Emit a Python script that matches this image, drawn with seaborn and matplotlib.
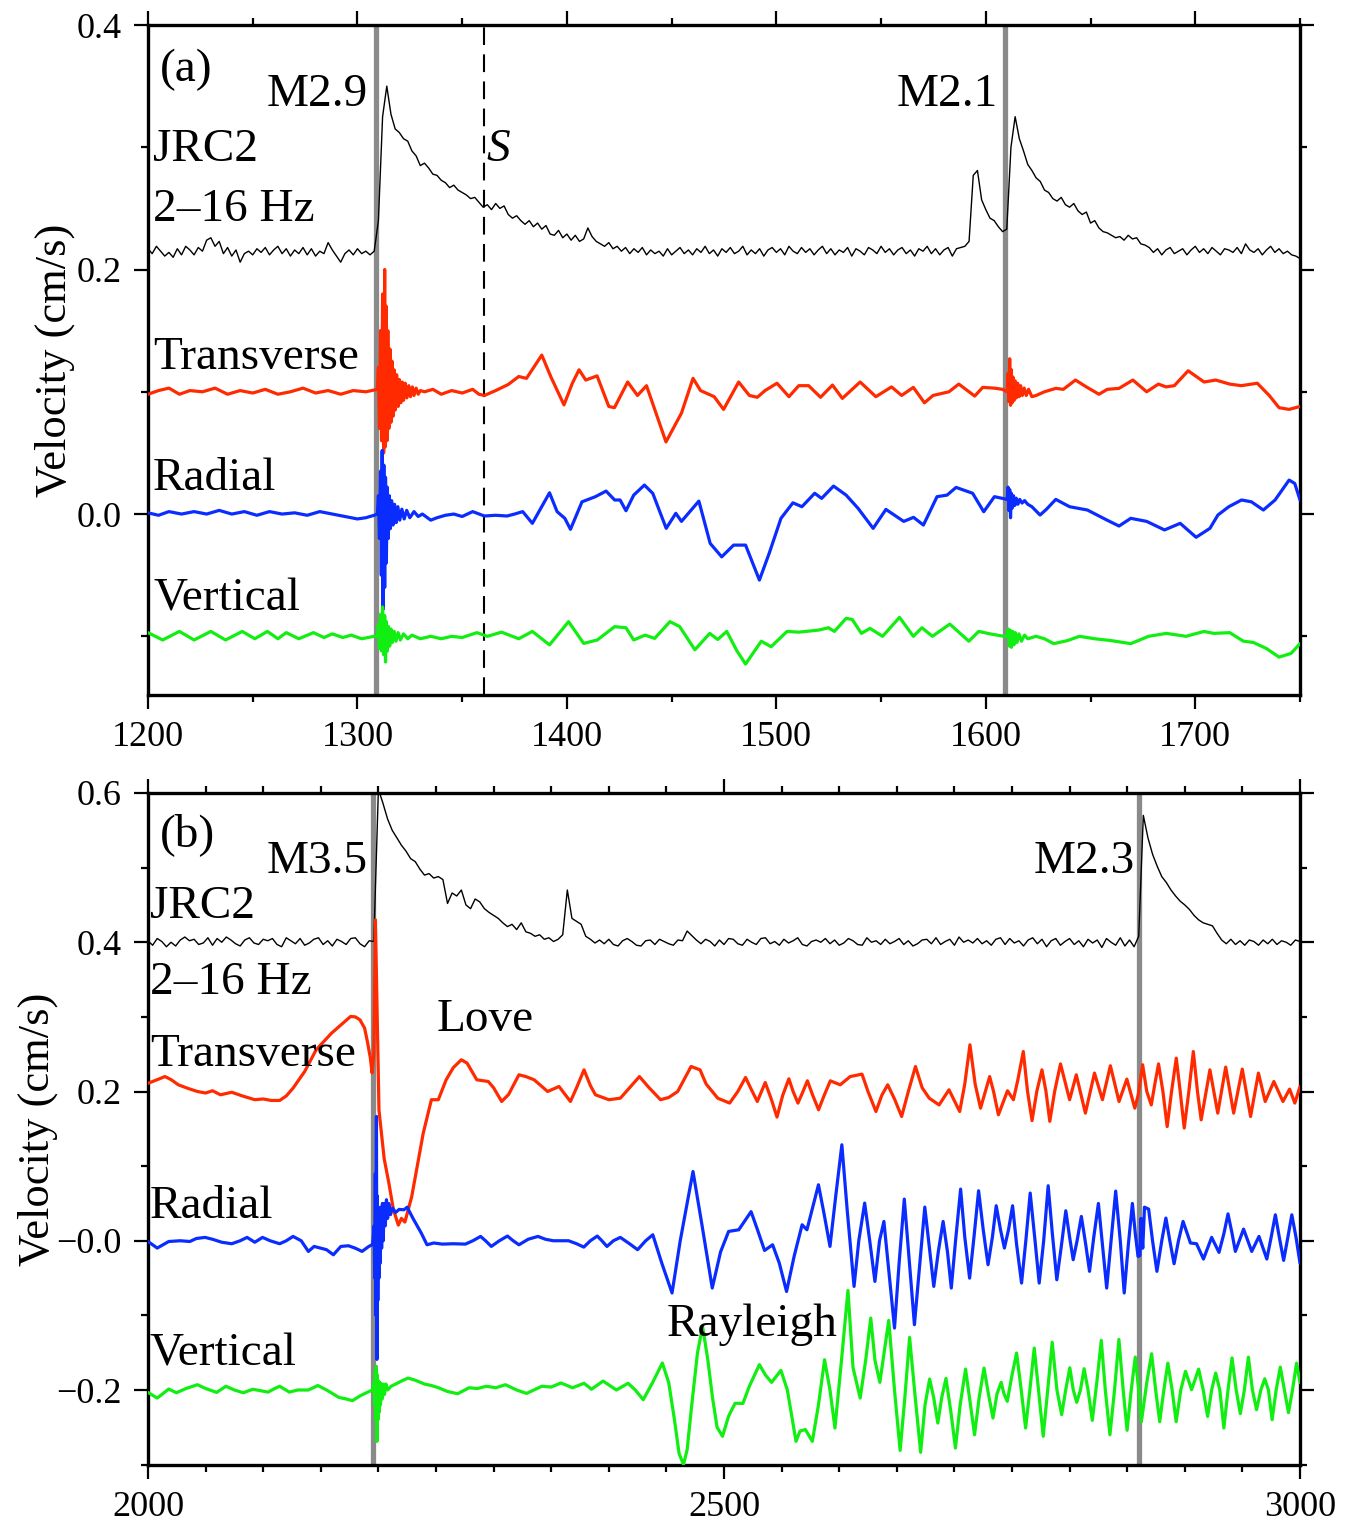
import numpy as np
import matplotlib.pyplot as plt
import seaborn as sns
from matplotlib.ticker import MultipleLocator, FixedLocator, FixedFormatter

sns.set_theme(style="ticks")
plt.rcParams['font.family'] = ['Liberation Serif', 'DejaVu Serif']
plt.rcParams.update({'text.color': 'black', 'axes.labelcolor': 'black',
                     'xtick.color': 'black', 'ytick.color': 'black',
                     'axes.edgecolor': 'black'})

# ---------------- data (velocity in cm/s, relative to each trace's baseline) ----------------
# panel (a): 1200-1750 s
a_black_t0, a_black_dt = 1200, 2
a_black = [
    .002, -.002, .004, .000, -.004, -.001, -.005, .002, -.003, .004,
    .001, -.003, .003, .000, .009, .011, .004, .008, -.002, .003,
    -.004, .001, -.009, -.002, .000, -.003, .002, -.001, .003, -.003,
    .001, .004, -.002, .002, -.004, .001, -.002, .003, -.003, .002,
    -.004, .000, -.002, .007, .001, -.004, -.009, -.002, .001, -.003,
    .002, -.002, .000, -.003, .000, .025, .110, .135, .112, .100,
    .097, .092, .090, .082, .078, .070, .072, .068, .063, .062,
    .058, .056, .052, .054, .050, .048, .046, .043, .044, .040,
    .036, .038, .034, .039, .035, .037, .030, .027, .029, .025,
    .022, .025, .020, .023, .018, .021, .014, .013, .017, .011,
    .014, .009, .013, .008, .010, .019, .012, .008, .006, .004,
    .007, .002, .004, .000, .003, -.002, .002, -.001, .003, -.003,
    .001, -.002, .000, -.004, .002, -.003, .000, .003, -.002, .001,
    -.003, .002, -.001, .004, -.002, .001, -.004, .002, -.001, .003,
    -.002, .000, .004, -.003, .001, -.002, .002, -.004, .001, .003,
    -.001, .002, -.003, .004, .000, -.002, .003, -.001, .002, -.003,
    .001, .004, -.002, .002, -.003, .001, -.001, .003, -.004, .002,
    .000, -.003, .003, .001, -.002, .004, -.001, .002, -.003, .001,
    .003, -.002, .001, -.004, .002, .000, .004, -.002, .002, -.003,
    .001, .003, -.004, .002, .003, .004, .008, .062, .066, .042,
    .034, .027, .025, .020, .016, .018, .085, .110, .092, .082,
    .071, .066, .060, .057, .050, .048, .043, .041, .044, .038,
    .036, .039, .033, .030, .032, .023, .025, .019, .016, .015,
    .013, .011, .012, .009, .013, .010, .011, .006, .005, .003,
    -.001, .002, -.003, .001, .003, -.002, .000, .002, -.003, .001,
    .004, -.001, .002, -.002, .003, .000, -.003, .002, .001, -.001,
    .003, -.002, .006, .001, -.001, .002, -.003, .001, .004, -.001,
    .002, -.002, .000, -.003, -.004, -.006,
]

a_trans = [
    (1200, -.002), (1205, .001), (1210, .003), (1215, -.002), (1220, .001), (1226, .000),
    (1232, .003), (1238, -.002), (1244, .001), (1250, -.001), (1256, .002), (1262, -.002),
    (1268, .000), (1274, .003), (1280, -.001), (1286, .001), (1292, -.002), (1298, .001),
    (1304, .000), (1309.5, .002), (1310, .02), (1310.5, -.03), (1311, .05), (1311.5, -.04),
    (1312, .08), (1312.5, -.05), (1313, .10), (1313.3, -.045), (1313.7, .07), (1314.1, -.04),
    (1314.5, .05), (1315, -.03), (1315.5, .035), (1316, -.025), (1316.5, .025), (1317, -.02),
    (1317.5, .018), (1318, -.015), (1318.7, .014), (1319.4, -.012), (1320, .01), (1320.7, -.009),
    (1321.4, .008), (1322, -.007), (1322.8, .007), (1323.6, -.005), (1324.5, .005), (1325.3, -.004),
    (1326.2, .004), (1327, -.003), (1328, .003), (1329, -.002), (1330, .001), (1332, .000),
    (1336, .002), (1340, -.002), (1345, .001), (1350, -.001), (1355, .002), (1358, -.002),
    (1360.6, -.003), (1366, .001), (1372, .006), (1377, .0125), (1380.7, .011), (1388, .030),
    (1392.4, .012), (1398.6, -.0107), (1402.6, .007), (1405.8, .018), (1409, .0096), (1414.4, .013),
    (1420, -.012), (1422.7, -.013), (1429, .008), (1433.7, -.003), (1438, .005), (1447.3, -.041),
    (1454.7, -.0174), (1460.2, .011), (1463.8, .001), (1470.3, -.004), (1474.8, -.0144), (1482, .008),
    (1487.1, -.003), (1490.9, -.0045), (1494.6, .001), (1500.3, .007), (1506, -.004), (1510.7, .005),
    (1515.4, .005), (1521.1, -.0045), (1526.8, .0055), (1531.5, -.0054), (1540, .008), (1547.5, -.004),
    (1555, .004), (1559.8, -.003), (1565.4, .0036), (1570.7, -.009), (1574.8, -.003), (1582.4, .000),
    (1587.1, .0063), (1594.7, -.0035), (1598.5, .0036), (1604, .003), (1608, .002), (1610.2, .000),
    (1610.6, .015), (1611, -.008), (1611.4, .027), (1611.8, -.011), (1612.2, .018), (1612.6, -.009),
    (1613, .012), (1613.5, -.007), (1614, .009), (1614.6, -.005), (1615.2, .007), (1615.9, -.004),
    (1616.6, .005), (1617.4, -.003), (1618.3, .003), (1619.3, -.003), (1620.4, .002), (1622, -.004),
    (1624, -.003), (1628, .000), (1633.4, .0028), (1637, .002), (1642.8, .0096), (1648, .004),
    (1654, -.002), (1658, .002), (1663.6, .0028), (1670.2, .0096), (1676.8, .000), (1682.4, .0063),
    (1686, .004), (1690, .005), (1696.6, .0172), (1704.2, .008), (1709.8, .0096), (1716.4, .0063),
    (1722, .005), (1729.6, .007), (1735.3, -.003), (1740, -.013), (1744.8, -.0144), (1750, -.012),
]

a_radial = [
    (1200, .001), (1205, -.001), (1210, .002), (1216, .000), (1222, .002), (1228, .000),
    (1234, .003), (1240, .000), (1246, .002), (1252, -.001), (1258, .002), (1264, .000),
    (1270, .001), (1276, -.001), (1282, .002), (1288, .000), (1294, -.002), (1300, -.004),
    (1304, -.003), (1308, -.001), (1309.5, .000), (1310, .015), (1310.5, -.02), (1311, .035),
    (1311.4, -.05), (1311.8, .052), (1312.2, -.078), (1312.6, .04), (1313, -.06), (1313.4, .03),
    (1313.8, -.04), (1314.2, .022), (1314.7, -.02), (1315.2, .015), (1315.7, -.012), (1316.3, .011),
    (1317, -.009), (1317.7, .008), (1318.5, -.007), (1319.3, .006), (1320.2, -.005), (1321.2, .004),
    (1322.3, -.004), (1323.5, .003), (1325, -.003), (1327, .002), (1329, -.002), (1331, .000),
    (1335, -.005), (1338, -.003), (1342, -.001), (1346, .000), (1350, -.002), (1355, .002),
    (1360.6, -.0016), (1366, -.001), (1371.4, -.0016), (1375, .000), (1378.9, .002), (1383.5, -.0076),
    (1391.7, .0174), (1395.3, .002), (1399, -.0035), (1401.7, -.0125), (1407.2, .010), (1413.6, .0142),
    (1418.7, .0188), (1422.8, .0115), (1425.4, .0115), (1428.2, .0027), (1431.9, .0155), (1437, .0237),
    (1441, .0169), (1447.4, -.0117), (1452, .0006), (1454.7, -.006), (1463, .0106), (1468.4, -.024),
    (1473.9, -.035), (1479.6, -.0254), (1485.3, -.0254), (1491.9, -.054), (1496.6, -.032), (1502.2, -.0035),
    (1507.9, .0092), (1512.2, .006), (1518.3, .017), (1521.6, .0128), (1527.3, .0229), (1533.3, .0155),
    (1539, .0047), (1546.2, -.0117), (1552.3, .0038), (1560.8, -.006), (1565.5, -.0027), (1570.2, -.009),
    (1576.7, .0142), (1581.5, .0155), (1585.8, .0218), (1593.7, .017), (1599, .0019), (1604.1, .0142),
    (1608, .0128), (1610.2, .012), (1610.6, .022), (1611, .003), (1611.4, .020), (1611.8, -.003),
    (1612.2, .017), (1612.7, .005), (1613.2, .015), (1613.8, .007), (1614.5, .013), (1615.3, .008),
    (1616.2, .012), (1617.3, .009), (1618.5, .011), (1620, .008), (1622, .006), (1625.9, -.0008),
    (1629, .004), (1633.4, .012), (1640, .006), (1648.5, .0033), (1657.9, -.005), (1663.6, -.0098),
    (1669.2, -.0035), (1676.8, -.006), (1685.3, -.013), (1692.8, -.0076), (1700.4, -.019), (1707, -.0117),
    (1710.8, -.0008), (1716, .006), (1722.1, .0115), (1726.8, .010), (1732.5, .0033), (1738.1, .0115),
    (1744.8, .0278), (1747.5, .025), (1750, .0115),
]

a_vert = [
    (1200, .003), (1207, -.003), (1215, .004), (1222, -.003), (1230, .004), (1237, -.003),
    (1245, .004), (1251, -.002), (1257, .004), (1262, -.002), (1266, .003), (1272, -.002),
    (1279, .003), (1284, -.001), (1288, .002), (1293, -.001), (1297, .001), (1302, -.002),
    (1308, .000), (1309.5, .000), (1310, .010), (1310.5, -.01), (1311, .018), (1311.5, -.012),
    (1312, .024), (1312.5, -.015), (1313, .017), (1313.4, -.021), (1313.8, .012), (1314.3, -.012),
    (1314.8, .008), (1315.4, -.008), (1316, .006), (1316.7, -.005), (1317.5, .004), (1318.4, -.004),
    (1319.4, .003), (1320.5, -.003), (1322, .002), (1324, -.002), (1326, .001), (1330, -.002),
    (1335, .000), (1340, -.002), (1345, .000), (1350, -.001), (1357, .003), (1362, .000),
    (1368.8, .0034), (1377, -.002), (1383.5, .004), (1391.7, -.007), (1400.8, .012), (1408, -.0058),
    (1414.5, -.003), (1422.8, .0079), (1428.2, .007), (1431.9, -.003), (1437.3, .001), (1441.9, -.0017),
    (1449.2, .012), (1453.8, .008), (1461.1, -.011), (1468.2, .0024), (1472, -.0026), (1476.3, .004),
    (1481.2, -.012), (1485.3, -.0227), (1492.8, -.004), (1497.5, -.0085), (1505.1, .004), (1510.7, .0034),
    (1520.2, .0051), (1524.9, .007), (1527.7, .004), (1533.3, .0147), (1536.2, .0138), (1540.6, .0024),
    (1544.7, .0065), (1550.7, .000), (1558.8, .0155), (1565.4, .000), (1569.5, .007), (1574.5, .000),
    (1582.8, .010), (1591.9, -.004), (1596.6, .004), (1602, .002), (1608, .0002), (1610.2, .000),
    (1610.7, .006), (1611.2, -.008), (1611.7, .005), (1612.2, -.009), (1612.8, .004), (1613.4, -.007),
    (1614.1, .003), (1614.9, -.005), (1615.8, .002), (1617, -.004), (1618.5, .001), (1620, -.002),
    (1624, .000), (1628, -.002), (1632.4, -.006), (1639, -.0035), (1644.7, .000), (1652, -.002),
    (1659.8, -.0035), (1669.2, -.006), (1677.7, .000), (1686.2, .0024), (1695.6, .000), (1704.2, .004),
    (1708.9, .0024), (1716.4, .003), (1723, -.004), (1727.7, -.005), (1734, -.01), (1740, -.017),
    (1745.7, -.014), (1750, -.006),
]

# panel (b): 2000-3000 s
b_black_t0, b_black_dt = 2000, 4
b_black = [
    .002, -.004, .005, .001, -.006, .000, -.005, .003, .007, .002,
    .004, -.003, -.001, .006, -.004, .005, .000, .007, .003, -.002,
    -.005, .003, .006, -.001, -.003, .004, .002, .005, -.003, -.006,
    .006, .002, -.002, .005, -.004, -.001, .004, .006, -.003, .002,
    -.005, .004, .001, -.003, .005, .006, -.002, -.006, .002, .001,
    .205, .186, .165, .150, .140, .130, .122, .112, .108, .098,
    .090, .092, .086, .088, .084, .052, .066, .062, .070, .050,
    .045, .058, .054, .045, .040, .036, .032, .026, .021, .024,
    .017, .026, .014, .012, .008, .010, .004, .006, .001, .004,
    .010, .070, .032, .028, .024, .008, .004, -.001, .003, -.002,
    .004, -.003, -.005, .002, .005, .001, -.004, -.005, .002, .003,
    -.003, .004, .001, -.002, -.004, .003, .002, .015, .009, .003,
    -.002, .004, .001, -.005, .003, -.003, .005, .004, -.002, -.004,
    .004, .000, -.003, .005, .006, -.002, .001, -.004, .004, -.001,
    .002, .006, -.003, -.005, .001, .003, .000, .005, -.002, .003,
    -.004, -.001, .005, .002, -.003, -.004, .006, .000, .002, -.003,
    .004, -.002, .001, .005, -.003, .002, -.005, -.002, .003, .004,
    -.002, .006, -.003, .001, .004, -.004, .007, .000, .003, -.001,
    .005, -.002, .002, -.004, .004, .006, -.003, .005, -.001, .002,
    -.005, .003, .006, -.002, .004, -.006, .002, .005, -.004, .001,
    .005, -.003, .002, -.006, .004, -.001, .003, -.007, .005, .000,
    -.004, .006, -.005, .003, -.006, .008, .170, .140, .118, .102,
    .088, .080, .070, .062, .055, .050, .044, .036, .030, .026,
    .024, .022, .012, .003, -.002, .004, -.003, .002, -.004, .003,
    .001, -.004, .003, -.002, .004, -.003, .002, .000, -.004, .003,
    .001,
]

b_trans = [
    (2000, .011), (2005, .014), (2014.7, .020), (2020, .016), (2026.3, .009), (2035, .004),
    (2042.9, .000), (2050, -.002), (2056, .001), (2062.9, -.0044), (2072.7, -.001), (2082, -.006),
    (2092.7, -.011), (2100, -.010), (2107, -.012), (2114.3, -.012), (2120, -.006), (2125.9, .0045),
    (2136, .0268), (2146, .056), (2159.2, .078), (2168, .090), (2175.8, .1005), (2180, .100),
    (2184, .096), (2188, .085), (2190.7, .065), (2193, .045), (2194.5, .025), (2196, .05),
    (2197.4, .23), (2200.5, -.025), (2205, -.09), (2209, -.122), (2213, -.158), (2217.3, -.179),
    (2220, -.17), (2223, -.175), (2228.9, -.141), (2238.9, -.056), (2246, -.011), (2252, -.011),
    (2258.8, .0157), (2265, .032), (2272, .0425), (2277, .038), (2282, .0247), (2285.4, .0157),
    (2295.4, .0134), (2300, .005), (2307, -.0134), (2313, -.004), (2322, .0224), (2328, .020),
    (2335.2, .0157), (2346.9, .000), (2356.8, .0067), (2366.7, -.0134), (2372, .005), (2378.5, .029),
    (2384, .008), (2388.4, -.0044), (2400, -.011), (2410, -.009), (2418, .005), (2426.6, .020),
    (2435, .005), (2444.9, -.011), (2452, -.008), (2459.8, .000), (2471.4, .0335), (2479.2, .029),
    (2484.5, .010), (2494.6, -.009), (2504.9, -.0155), (2512, .000), (2518.7, .0188), (2523, .005),
    (2528.9, -.0134), (2535.8, .012), (2541, -.010), (2546, -.0343), (2551, -.005), (2556.3, .017),
    (2560, .000), (2564.2, -.0155), (2568, -.002), (2572.4, .0143), (2577, -.005), (2582.1, -.0245),
    (2587, -.005), (2592.3, .0143), (2600.9, .009), (2609.5, .020), (2619.8, .0233), (2625, .000),
    (2631.9, -.0268), (2637, -.005), (2642.1, .009), (2648, -.010), (2654.2, -.0335), (2660, .000),
    (2666.2, .0335), (2672, .005), (2678.2, -.009), (2686.7, -.018), (2695.3, .0023), (2704.6, -.0268),
    (2709, .010), (2713.5, .0626), (2718, .010), (2722.7, -.0223), (2730.6, .020), (2734, .000),
    (2738.2, -.0312), (2746.1, .001), (2751.2, -.011), (2755, .015), (2759.8, .0536), (2763.5, .000),
    (2767.4, -.039), (2771.5, .000), (2776, .029), (2779.5, .000), (2782.8, -.040), (2787, .000),
    (2792.1, .037), (2800, -.011), (2805.8, .0224), (2813.7, -.029), (2821.6, .0247), (2828.5, -.011),
    (2835.4, .0345), (2842.9, -.0134), (2849.7, .0166), (2856.6, -.0223), (2859.5, -.005), (2861, .01),
    (2863.4, .0358), (2867, .000), (2870.9, -.018), (2874, .010), (2877.2, .037), (2881, .000),
    (2884.7, -.047), (2888.5, .000), (2892.6, .0447), (2896, .000), (2899.5, -.049), (2903.5, .000),
    (2907.4, .0536), (2911, .000), (2914.2, -.038), (2921.8, .029), (2928.6, -.029), (2935.5, .0327),
    (2942.4, -.029), (2949.9, .030), (2957.1, -.0335), (2963.9, .0247), (2969.8, -.0134), (2977.3, .0134),
    (2985.2, -.0134), (2991, .0032), (2995.5, -.0155), (3000, .0067),
]

b_radial = [
    (2000, -.001), (2008, -.0098), (2018, -.001), (2028, .000), (2036.3, -.001), (2042, .003),
    (2049.5, .0045), (2056, .002), (2064, -.002), (2072.7, -.004), (2080, .000), (2086, .0045),
    (2092.7, -.002), (2099.4, .0045), (2106, .000), (2114.3, -.004), (2120, .000), (2125.9, .0058),
    (2133, .000), (2139.2, -.0143), (2144.2, -.0076), (2150, -.010), (2155, -.012), (2160.9, -.0188),
    (2167.4, -.0076), (2174, -.0067), (2180, -.010), (2185.8, -.0143), (2191.7, -.0076), (2195, -.005),
    (2196.3, .02), (2196.8, -.05), (2197.3, .09), (2197.8, -.10), (2198.3, .1665), (2198.7, -.159),
    (2199.1, .06), (2199.5, -.08), (2200, .045), (2200.5, -.05), (2201, .04), (2201.6, -.03),
    (2202.2, .045), (2202.8, -.01), (2203.5, .05), (2204.2, .00), (2205, .05), (2206, .02),
    (2207, .055), (2208, .03), (2209, .05), (2210.5, .035), (2212.3, .0438), (2215, .038),
    (2218, .042), (2222.2, .0415), (2225, .045), (2230, .030), (2237.2, .0103), (2242.2, -.0054),
    (2248, -.003), (2255.5, -.0045), (2265, -.004), (2275.5, -.0045), (2282, .000), (2288.7, .0058),
    (2293, .000), (2298, -.0076), (2305, .000), (2312, .0063), (2317, .000), (2322, -.0054),
    (2330, .002), (2338.5, .0058), (2345, .002), (2351.8, .000), (2365.1, .000), (2372, -.004),
    (2378.3, -.0085), (2384, .000), (2390, .0063), (2394, .000), (2398.4, -.0076), (2404, .000),
    (2410, .0045), (2418, -.004), (2425, -.012), (2432, .000), (2438.2, .008), (2446, -.030),
    (2454.9, -.070), (2462, .000), (2473.1, .0928), (2481, .020), (2489.8, -.0634), (2497, -.015),
    (2504, .0125), (2512.8, .0147), (2523.5, .039), (2529, .015), (2535.2, -.013), (2542.2, -.0054),
    (2548, -.030), (2554.3, -.068), (2561, -.020), (2567.8, .0214), (2572, .0147), (2582, .075),
    (2587, .035), (2592, -.0076), (2597, .060), (2602.3, .1286), (2607, .040), (2612.9, -.0612),
    (2617, .000), (2622.1, .0505), (2626.5, .000), (2631, -.0545), (2635, .000), (2638.8, .0259),
    (2643, -.040), (2648, -.117), (2652, -.030), (2656.5, .0558), (2661, -.030), (2665.3, -.1125),
    (2670, -.030), (2674.3, .0451), (2678, -.005), (2682.1, -.0612), (2686, -.015), (2690.2, .0259),
    (2694, -.015), (2697.3, -.0634), (2701, .000), (2705.4, .0692), (2709, .005), (2713.2, -.0501),
    (2717, .005), (2721, .067), (2725, .015), (2729.2, -.0321), (2733, .005), (2736.3, .0469),
    (2740, .015), (2743.4, -.0098), (2747, .015), (2750.5, .0469), (2754, -.005), (2758.3, -.0567),
    (2762, .000), (2765.8, .0639), (2770, .000), (2773.6, -.0567), (2777.5, .000), (2781.4, .0737),
    (2785, .010), (2788.9, -.0523), (2793, -.005), (2796.7, .0402), (2800, .005), (2803.1, -.0254),
    (2806.5, .000), (2810.2, .0326), (2814, -.005), (2817.3, -.041), (2821, .005), (2825, .050),
    (2828.5, -.005), (2832.2, -.0634), (2836, .000), (2840, .0665), (2844, .000), (2847.4, -.070),
    (2851, -.005), (2854.5, .050), (2857, .010), (2859.4, -.021), (2861, -.02), (2862, .03),
    (2863.5, -.01), (2865, .045), (2868.6, .0424), (2872, .000), (2875.8, -.041), (2880, .000),
    (2883.6, .0304), (2887, .000), (2890.7, -.0308), (2894.5, .000), (2898.5, .0259), (2904.9, -.003),
    (2910.2, -.004), (2916.2, -.0245), (2923.3, .0045), (2929.7, -.0156), (2934, .010), (2937.5, .036),
    (2941, .010), (2943.9, -.0143), (2951, .0156), (2958.1, -.0143), (2964.4, .0058), (2971.2, -.0245),
    (2975, .005), (2978.6, .0348), (2982, .005), (2985.8, -.0263), (2989.5, .005), (2992.9, .0348),
    (2996.5, .005), (3000, -.030),
]

b_vert = [
    (2000, -.0032), (2008, -.0108), (2018, .0013), (2024.6, -.0037), (2033, .002), (2042.9, .0071),
    (2050, .002), (2059.5, -.0032), (2067.7, .005), (2075, .000), (2082.7, -.0037), (2091, .001),
    (2098, -.001), (2104.3, -.0028), (2110, .002), (2114.3, .005), (2122.7, -.0028), (2130, .000),
    (2139.2, .000), (2147.5, .006), (2155, .000), (2165.8, -.010), (2172, -.012), (2177.4, -.0143),
    (2184, -.008), (2190.7, -.0028), (2195, .000), (2196.3, .01), (2196.8, -.02), (2197.3, .025),
    (2197.8, -.04), (2198.3, .0316), (2198.7, -.0689), (2199.1, .02), (2199.6, -.04), (2200.1, .012),
    (2200.6, -.03), (2201.2, .01), (2201.8, -.02), (2202.5, .008), (2203.3, -.012), (2204.2, .008),
    (2205.2, -.006), (2206.5, .008), (2208, .000), (2211, .005), (2215, .008), (2220, .012),
    (2225.7, .016), (2232.2, .013), (2240, .008), (2246, .006), (2252.2, .003), (2260, -.002),
    (2268.8, -.005), (2278.7, .003), (2286, .002), (2293.7, .005), (2302, .003), (2310.3, .0071),
    (2320, .000), (2328.6, -.0046), (2335, .000), (2341.8, .005), (2350, .004), (2358.5, .0094),
    (2368.5, .003), (2378.5, .009), (2385, .001), (2395, .012), (2406.6, .000), (2416.7, .009),
    (2423, .000), (2429.9, -.013), (2438, .010), (2446.5, .0362), (2452, .010), (2457, -.040),
    (2461, -.085), (2464.8, -.100), (2468, -.080), (2472, -.020), (2477, .050), (2481.4, .0852),
    (2486, .040), (2490, -.010), (2494, -.050), (2498.7, -.062), (2504, -.035), (2509.6, -.0178),
    (2516.4, -.018), (2522, .005), (2530.7, .034), (2536, .020), (2541.3, .0102), (2549.4, .0263),
    (2555, .000), (2562.5, -.0688), (2566, -.055), (2570.6, -.053), (2576.7, -.0688), (2582, -.020),
    (2587.3, .0406), (2592, .000), (2596.3, -.051), (2602, .040), (2607.6, .1334), (2612, .030),
    (2618.2, -.0108), (2623, .040), (2627.4, .0964), (2631, .040), (2635.3, .0102), (2639, .050),
    (2643, .0933), (2648, .000), (2652.9, -.081), (2657, -.010), (2661.1, .0705), (2666, -.010),
    (2670.7, -.0835), (2674.5, -.020), (2678.5, .0147), (2682, -.010), (2685.6, -.0443), (2689, -.010),
    (2692.7, .0155), (2697, -.030), (2700.9, -.0778), (2705, -.020), (2709.7, .028), (2714, -.020),
    (2717.5, -.060), (2721.5, -.010), (2725.7, .0294), (2729.5, -.005), (2733.5, -.0376), (2737, -.005),
    (2740.6, .0102), (2743, -.005), (2745.9, -.0152), (2750, .020), (2754, .0495), (2758, .000),
    (2761.8, -.051), (2765.5, .000), (2769.3, .0562), (2773, .000), (2777.1, -.062), (2781, .000),
    (2784.9, .064), (2789, .000), (2793.1, -.033), (2796.6, .000), (2800.2, .0298), (2803.2, .000),
    (2806.2, -.0165), (2809.4, .000), (2812.6, .0285), (2816, .000), (2819.7, -.0407), (2823.6, .010),
    (2827.5, .0665), (2831, .000), (2835, -.060), (2839, .000), (2842.8, .0678), (2846.5, .000),
    (2849.9, -.054), (2853.5, .000), (2857, .0441), (2860, .000), (2862.3, -.0425), (2867, .010),
    (2871.2, .0486), (2874.7, .000), (2878.2, -.0425), (2881.8, .000), (2885.3, .036), (2889, .000),
    (2892.5, -.0425), (2896.5, .000), (2900.6, .025), (2905.9, .0004), (2912, .028), (2916, .000),
    (2919.8, -.0354), (2923.3, .000), (2926.8, .0227), (2930.4, .000), (2933.9, -.051), (2937.5, .000),
    (2941, .043), (2944.6, .000), (2948.2, -.0317), (2951.7, .000), (2955.2, .044), (2958.7, .000),
    (2962.3, -.0264), (2966, .000), (2969.4, .015), (2972.6, .000), (2975.8, -.0398), (2979.3, .000),
    (2982.9, .0307), (2986.5, .000), (2990, -.0304), (2993.5, .000), (2997, .036), (3000, .0102),
]

a_offsets = [0.215, 0.10, 0.0, -0.10]     # black, transverse, radial, vertical
b_offsets = [0.40, 0.20, 0.0, -0.20]
a_events = [1309.0, 1609.2]
b_events = [2195.3, 2860.2]
a_s_time = 1360.5
a_ytick_labels = ['0.0', '0.2', '0.4']
b_ytick_labels = ['\u22120.2', '\u22120.0', '0.2', '0.4', '0.6']

RED, BLUE, GREEN = '#ff2a00', '#0a2cff', '#11ee11'
GRAY = '#8a8a8a'
FS_TXT = 34
FS_TICK = 26


def trace(ax, pts, off, color, lw=2.3):
    t, v = np.array(pts).T
    sns.lineplot(x=t, y=v + off, ax=ax, color=color, lw=lw, estimator=None,
                 sort=False, legend=False, zorder=3)


def black(ax, t0, dt, vals, off):
    t = t0 + dt * np.arange(len(vals))
    sns.lineplot(x=t, y=np.array(vals) + off, ax=ax, color='black', lw=1.0,
                 estimator=None, sort=False, legend=False, zorder=3)


def frame(ax, xlim, ylim, xmaj, xmin, yticks, ylabels):
    ax.set_xlim(*xlim)
    ax.set_ylim(*ylim)
    ax.xaxis.set_major_locator(MultipleLocator(xmaj))
    ax.xaxis.set_minor_locator(MultipleLocator(xmin))
    ax.yaxis.set_major_locator(FixedLocator(yticks))
    ax.yaxis.set_major_formatter(FixedFormatter(ylabels))
    ax.yaxis.set_minor_locator(MultipleLocator(0.1))
    ax.tick_params(which='both', direction='out', top=True, right=True,
                   width=1.6, labelsize=FS_TICK, pad=9, color='black')
    ax.tick_params(which='major', length=10)
    ax.tick_params(which='minor', length=5)
    for s in ax.spines.values():
        s.set_linewidth(2.4)
        s.set_color('black')
        s.set_visible(True)
    ax.set_xlabel('')
    ax.set_ylabel('Velocity (cm/s)', fontsize=32, color='black')


fig = plt.figure(figsize=(13.47, 15.26), dpi=100)
ax1 = fig.add_axes([148 / 1347, 1 - 695 / 1526, 1152 / 1347, 670 / 1526])
ax2 = fig.add_axes([148 / 1347, 1 - 1465 / 1526, 1152 / 1347, 672 / 1526])

# ---------- panel (a)
for te in a_events:
    ax1.axvline(te, color=GRAY, lw=3.8, zorder=2)
ax1.axvline(a_s_time, color='black', lw=1.5, dashes=(8.5, 4.5), zorder=2)
black(ax1, a_black_t0, a_black_dt, a_black, a_offsets[0])
trace(ax1, a_trans, a_offsets[1], RED)
trace(ax1, a_radial, a_offsets[2], BLUE)
trace(ax1, a_vert, a_offsets[3], GREEN)
frame(ax1, (1200, 1750), (-0.148, 0.4), 100, 50, [0.0, 0.2, 0.4], a_ytick_labels)
ax1.yaxis.set_label_coords(-0.063, 0.5)

ax1.text(1205.7, 0.363, '(a)', fontsize=FS_TXT, va='center')
ax1.text(1305, 0.343, 'M2.9', fontsize=FS_TXT, va='center', ha='right')
ax1.text(1605.8, 0.343, 'M2.1', fontsize=FS_TXT, va='center', ha='right')
ax1.text(1202.4, 0.298, 'JRC2', fontsize=FS_TXT, va='center')
ax1.text(1202.4, 0.249, '2\u201316 Hz', fontsize=FS_TXT, va='center')
ax1.text(1361.8, 0.298, 'S', fontsize=FS_TXT, va='center', style='italic')
ax1.text(1202.4, 0.128, 'Transverse', fontsize=FS_TXT, va='center')
ax1.text(1202.4, 0.029, 'Radial', fontsize=FS_TXT, va='center')
ax1.text(1202.4, -0.070, 'Vertical', fontsize=FS_TXT, va='center')

# ---------- panel (b)
for te in b_events:
    ax2.axvline(te, color=GRAY, lw=3.8, zorder=2)
black(ax2, b_black_t0, b_black_dt, b_black, b_offsets[0])
trace(ax2, b_trans, b_offsets[1], RED)
trace(ax2, b_radial, b_offsets[2], BLUE)
trace(ax2, b_vert, b_offsets[3], GREEN)
frame(ax2, (2000, 3000), (-0.3005, 0.6), 500, 50, [-0.2, 0.0, 0.2, 0.4, 0.6], b_ytick_labels)
ax2.yaxis.set_label_coords(-0.078, 0.5)

ax2.text(2010.4, 0.544, '(b)', fontsize=FS_TXT, va='center')
ax2.text(2191, 0.508, 'M3.5', fontsize=FS_TXT, va='center', ha='right')
ax2.text(2856.8, 0.508, 'M2.3', fontsize=FS_TXT, va='center', ha='right')
ax2.text(2001.7, 0.447, 'JRC2', fontsize=FS_TXT, va='center')
ax2.text(2001.7, 0.3456, '2\u201316 Hz', fontsize=FS_TXT, va='center')
ax2.text(2250.9, 0.296, 'Love', fontsize=FS_TXT, va='center')
ax2.text(2001.7, 0.249, 'Transverse', fontsize=FS_TXT, va='center')
ax2.text(2001.7, 0.0455, 'Radial', fontsize=FS_TXT, va='center')
ax2.text(2450.5, -0.1125, 'Rayleigh', fontsize=FS_TXT, va='center')
ax2.text(2001.7, -0.1527, 'Vertical', fontsize=FS_TXT, va='center')

fig.savefig('out.png', dpi=100)
